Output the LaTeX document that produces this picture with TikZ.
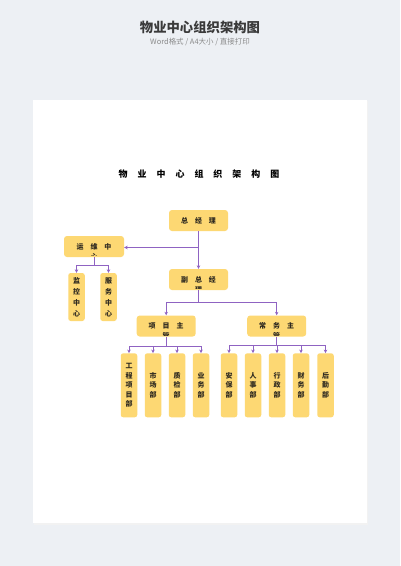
\documentclass[tikz,border=0pt]{standalone}
\usepackage{fontspec}
\newfontfamily\cjk{Noto Sans CJK SC}
\usetikzlibrary{arrows.meta}

\definecolor{pagegray}{HTML}{EDF0F4}
\definecolor{boxyellow}{HTML}{FDD873}
\definecolor{linepurple}{HTML}{8F63C2}
\definecolor{titlegray}{HTML}{3A3A3A}
\definecolor{subgray}{HTML}{8A8A8A}
\definecolor{boxtext}{HTML}{2F2A20}

\begin{document}
\begin{tikzpicture}[x=1bp, y=-1bp,
    gapped/.style={execute at begin node={\spaceskip=#1\relax}},
    widebox/.style={fill=boxyellow, rounded corners=3bp, minimum width=59bp, minimum height=21bp,
        inner sep=0pt, text=boxtext, font=\cjk\bfseries\fontsize{7}{9}\selectfont, gapped=7bp},
    tallbox/.style={fill=boxyellow, rounded corners=2.5bp, minimum width=16.5bp, minimum height=64bp,
        inner sep=0pt, align=center, text=boxtext, font=\cjk\bfseries\fontsize{7}{9.6}\selectfont},
    % second line of a wide box, cut off by the box
    tailtext/.style={path picture={
        \clip ([yshift=1.5bp]path picture bounding box.south west) rectangle (path picture bounding box.north east);
        \node[text=boxtext, font=\cjk\bfseries\fontsize{7}{9}\selectfont]
            at ([yshift=-10bp]path picture bounding box.center) {#1};}},
    link/.style={draw=linepurple, line width=0.9bp, -{Stealth[length=3.5bp, width=3.5bp]}},
    bus/.style={draw=linepurple, line width=0.9bp}]

    % background and sheet
    \useasboundingbox (0,0) rectangle (400,566);
    \fill[pagegray] (0,0) rectangle (400,566);
    \fill[black!5] (33.5,101.5) rectangle (368,524.5);
    \fill[white] (32.5,100) rectangle (366.7,523);

    \node[font=\cjk\bfseries\fontsize{13.4}{14}\selectfont, text=titlegray] (title) at (200,27) {物业中心组织架构图};
    \node[font=\cjk\fontsize{7.5}{8}\selectfont, text=subgray] (subtitle) at (200,42.5) {Word格式 / A4大小 / 直接打印};
    \node[font=\cjk\bfseries\fontsize{9}{9}\selectfont, gapped=10bp] (heading) at (199,174) {物 业 中 心 组 织 架 构 图};

    % upper levels
    \node[widebox] (gm) at (198.5,220.5) {总 经 理};
    \node[widebox, minimum width=60bp, tailtext=心] (ops) at (94,246.5) {运 维 中};
    \node[widebox, tailtext=理] (vgm) at (198.5,279.5) {副 总 经};
    \node[widebox, tailtext=管] (pm) at (166.2,326) {项 目 主};
    \node[widebox, tailtext=管] (am) at (276.7,326) {常 务 主};

    \node[tallbox, minimum height=48bp, font=\cjk\bfseries\fontsize{7}{11}\selectfont] (mon) at (76.5,297) {监\\控\\中\\心};
    \node[tallbox, minimum height=48bp, font=\cjk\bfseries\fontsize{7}{11}\selectfont] (svc) at (108.5,297) {服\\务\\中\\心};

    % departments
    \node[tallbox] (eng) at (129,385.3) {工\\程\\项\\目\\部};
    \node[tallbox] (mkt) at (153,385.3) {市\\场\\部};
    \node[tallbox] (qc) at (177,385.3) {质\\检\\部};
    \node[tallbox] (biz) at (201,385.3) {业\\务\\部};

    \node[tallbox] (sec) at (229,385.3) {安\\保\\部};
    \node[tallbox] (hr) at (253,385.3) {人\\事\\部};
    \node[tallbox] (adm) at (277,385.3) {行\\政\\部};
    \node[tallbox] (fin) at (301,385.3) {财\\务\\部};
    \node[tallbox] (lgs) at (325.5,385.3) {后\\勤\\部};

    % connectors
    \draw[link] (gm) -- (vgm);
    \coordinate (opsjoint) at (gm.south |- 0,247.5);
    \draw[link] (opsjoint) -- (ops.east |- opsjoint);

    \draw[bus] (ops.south) -- ++(0,8.3) coordinate (opsbus);
    \draw[link] (opsbus) -| (mon.north);
    \draw[link] (opsbus) -| (svc.north);

    \draw[bus] (vgm.south) -- ++(0,12.5) coordinate (vgmbus);
    \draw[link] (vgmbus) -| (pm.north);
    \draw[link] (vgmbus) -| (am.north);

    \draw[bus] (pm.south) -- ++(0,9.3) coordinate (pmbus);
    \draw[link] (pmbus) -| (eng.north);
    \draw[link] (pmbus) -| (mkt.north);
    \draw[link] (pmbus) -| (qc.north);
    \draw[link] (pmbus) -| (biz.north);

    \draw[bus] (am.south) -- ++(0,8.5) coordinate (ambus);
    \draw[link] (ambus) -| (sec.north);
    \draw[link] (ambus) -| (hr.north);
    \draw[link] (ambus) -| (adm.north);
    \draw[link] (ambus) -| (fin.north);
    \draw[link] (ambus) -| (lgs.north);

\end{tikzpicture}
\end{document}
